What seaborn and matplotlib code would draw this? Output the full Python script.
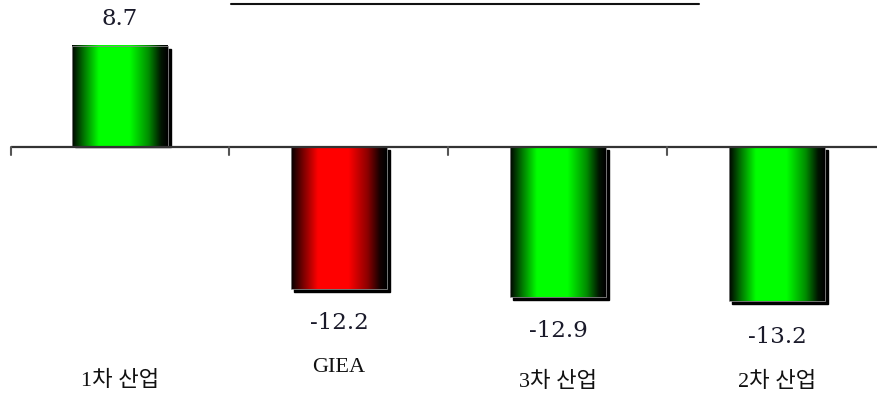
import numpy as np
import pandas as pd
import matplotlib
matplotlib.use("Agg")
import matplotlib.pyplot as plt
import seaborn as sns
from matplotlib.colors import to_rgb
from matplotlib.patches import Rectangle
from matplotlib.lines import Line2D

# Growth by industry (%)
categories = ["1차 산업", "GIEA", "3차 산업", "2차 산업"]
values = [8.7, -12.2, -12.9, -13.2]
bar_colors = ["#00ff00", "#ff0000", "#00ff00", "#00ff00"]
value_labels = ["8.7", "-12.2", "-12.9", "-13.2"]

sns.set_theme(style="white")
plt.rcParams["font.family"] = ["Noto Sans CJK KR", "DejaVu Sans"]

W, H, DPI = 877, 394, 100
fig = plt.figure(figsize=(W / DPI, H / DPI), dpi=DPI)
ax = fig.add_axes([0, 0, 1, 1])

df = pd.DataFrame({"category": categories, "value": values})
sns.barplot(data=df, x="category", y="value", hue="category",
            palette=bar_colors, width=0.434, saturation=1,
            legend=False, ax=ax, zorder=3)

# pixel <-> data scale
px_per_cat = 219.0
px_per_unit = 11.65
x0_px, zero_px = 120.0, 147.0
xlim = (-x0_px / px_per_cat, (W - x0_px) / px_per_cat)
ylim = (-(H - zero_px) / px_per_unit, zero_px / px_per_unit)
ax.set_xlim(*xlim)
ax.set_ylim(*ylim)
ax.axis("off")

dx = 3 / px_per_cat
dy = 3 / px_per_unit

# cylinder-like horizontal shading: dark edges, bright band left of centre
t = np.linspace(0, 1, 200)
shade = np.interp(t, [0.0, 0.03, 0.12, 0.28, 0.60, 0.80, 0.93, 1.0],
                  [0.02, 0.12, 0.45, 1.0, 1.0, 0.55, 0.08, 0.0])

patches = list(ax.patches)
for patch, color in zip(patches, bar_colors):
    x, y = patch.get_x(), patch.get_y()
    w, h = patch.get_width(), patch.get_height()
    y_lo, y_hi = min(y, y + h), max(y, y + h)
    # drop shadow
    if y_hi > 0:
        shadow = Rectangle((x + dx, 0), w, y_hi - dy, color="black", zorder=2)
    else:
        shadow = Rectangle((x + dx, y_lo - dy), w, y_hi - y_lo, color="black", zorder=2)
    ax.add_patch(shadow)
    rgb = np.array(to_rgb(color))
    img = (shade[:, None] * rgb[None, :])[None, :, :]
    ax.imshow(img, aspect="auto", origin="lower",
              extent=(x, x + w, y_lo, y_hi), zorder=3,
              interpolation="bilinear")
    patch.set_facecolor("none")
    patch.set_edgecolor("#888888")
    patch.set_linewidth(0.6)
    patch.set_zorder(4)

ax.set_xlim(*xlim)
ax.set_ylim(*ylim)

# baseline with category ticks
ax.plot([-0.5, xlim[1]], [0, 0], color="#333333", lw=1.6, zorder=5,
        solid_capstyle="butt")
tick_len = 8 / px_per_unit
for tx in [-0.5, 0.5, 1.5, 2.5]:
    ax.plot([tx, tx], [0, -tick_len], color="#555555", lw=1.5, zorder=5)

# value labels
offsets_px = [-27, 34, 34, 36]
for i, (v, lab) in enumerate(zip(values, value_labels)):
    ax.text(i, v - offsets_px[i] / px_per_unit, lab, ha="center", va="center",
            fontsize=16.5, family=["DejaVu Serif"], color="#1a1a2a", zorder=6)

# category labels along the bottom (serif Latin, CJK fallback for Hangul)
label_y_px = [381, 367, 382, 382]
for i, (cat, ypx) in enumerate(zip(categories, label_y_px)):
    ax.text(i, (zero_px - ypx) / px_per_unit, cat, ha="center", va="center",
            fontsize=16, family=["Liberation Serif", "Noto Sans CJK KR"],
            color="#111111", zorder=6)

# title underline
fig.add_artist(Line2D([231 / W, 699 / W], [1 - 4 / H, 1 - 4 / H],
                      color="#111111", lw=1.5, transform=fig.transFigure))

fig.savefig("out.png", dpi=DPI)
